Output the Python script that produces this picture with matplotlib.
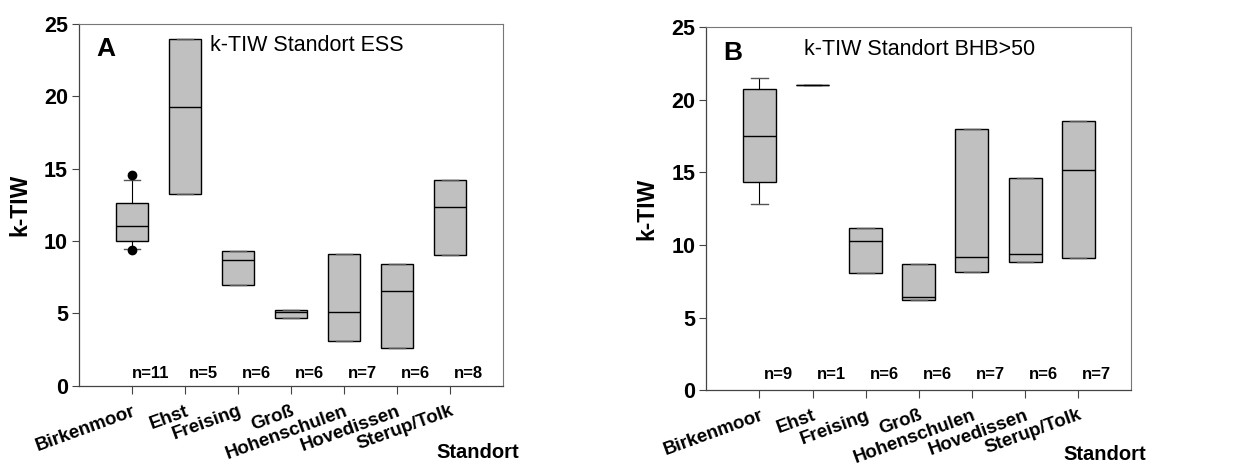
import matplotlib
matplotlib.use("Agg")
import matplotlib.pyplot as plt

plt.rcParams['font.family'] = ['Liberation Sans', 'DejaVu Sans']

standorte = ['Birkenmoor', 'Ehst', 'Freising', 'Groß', 'Hohenschulen',
             'Hovedissen', 'Sterup/Tolk']

# Panel A: k-TIW, Standort ESS
ess_q1 = [10.0, 13.26, 7.0, 4.72, 3.11, 2.65, 9.02]
ess_med = [11.03, 19.29, 8.72, 5.09, 5.13, 6.58, 12.38]
ess_q3 = [12.64, 23.94, 9.30, 5.27, 9.14, 8.40, 14.20]
ess_wlo = [9.48, 13.26, 7.0, 4.72, 3.11, 2.65, 9.02]
ess_whi = [14.20, 23.94, 9.30, 5.27, 9.14, 8.40, 14.20]
ess_fliers = [[14.55, 9.37], [], [], [], [], [], []]
ess_n = [11, 5, 6, 6, 7, 6, 8]

# Panel B: k-TIW, Standort BHB>50
bhb_q1 = [14.33, 21.0, 8.04, 6.18, 8.11, 8.80, 9.10]
bhb_med = [17.50, 21.0, 10.25, 6.43, 9.14, 9.35, 15.14]
bhb_q3 = [20.77, 21.0, 11.14, 8.66, 18.01, 14.63, 18.56]
bhb_wlo = [12.82, 21.0, 8.04, 6.18, 8.11, 8.80, 9.10]
bhb_whi = [21.48, 21.0, 11.14, 8.66, 18.01, 14.63, 18.56]
bhb_fliers = [[], [], [], [], [], [], []]
bhb_n = [9, 1, 6, 6, 7, 6, 7]


def make_stats(q1, med, q3, wlo, whi, fliers):
    return [dict(q1=a, med=b, q3=c, whislo=d, whishi=e, fliers=f)
            for a, b, c, d, e, f in zip(q1, med, q3, wlo, whi, fliers)]


def panel(ax, stats, n, letter, title, title_x, ny):
    pos = list(range(1, len(stats) + 1))
    ax.bxp(stats, positions=pos, widths=0.62, patch_artist=True,
           showfliers=True,
           boxprops=dict(facecolor='#c0c0c0', edgecolor='black', linewidth=1.0),
           medianprops=dict(color='black', linewidth=1.0),
           whiskerprops=dict(color='black', linewidth=0.8),
           capprops=dict(color='#555555', linewidth=1.0),
           capwidths=0.31,
           flierprops=dict(marker='o', markerfacecolor='black',
                           markeredgecolor='black', markersize=6))
    ax.set_xlim(0, 8)
    ax.set_ylim(0, 25)
    ax.set_yticks([0, 5, 10, 15, 20, 25])
    ax.set_xticks(pos)
    ax.set_xticklabels(standorte, rotation=20, ha='right', va='top',
                       rotation_mode='anchor', fontsize=13.5, fontweight='bold')
    for lab in ax.get_yticklabels():
        lab.set_fontsize(15.5)
        lab.set_fontweight('bold')
    ax.tick_params(axis='y', length=5, width=0.8, color='#444444', pad=3)
    ax.tick_params(axis='x', length=6, width=0.8, color='#444444', pad=6)
    for side in ['left', 'bottom']:
        ax.spines[side].set_color('#444444')
        ax.spines[side].set_linewidth(0.9)
    for side in ['top', 'right']:
        ax.spines[side].set_color('#777777')
        ax.spines[side].set_linewidth(0.8)
    ax.set_ylabel('k-TIW', fontsize=16.5, fontweight='bold', labelpad=9)
    for p, k in zip(pos, n):
        ax.text(p + 0.35, ny, 'n=%d' % k, ha='center', va='center',
                fontsize=12, fontweight='bold')
    ax.text(0.04, 0.93, letter, transform=ax.transAxes, fontsize=19,
            fontweight='bold', va='center', ha='left')
    ax.text(title_x, 0.94, title, transform=ax.transAxes, fontsize=15.5,
            va='center', ha='left')


fig = plt.figure(figsize=(12.48, 4.70), dpi=100)
ax1 = fig.add_axes([0.0633, 0.179, 0.3397, 0.770])
ax2 = fig.add_axes([0.566, 0.170, 0.3405, 0.772])

panel(ax1, make_stats(ess_q1, ess_med, ess_q3, ess_wlo, ess_whi, ess_fliers),
      ess_n, 'A', 'k-TIW Standort ESS', 0.31, 0.85)
panel(ax2, make_stats(bhb_q1, bhb_med, bhb_q3, bhb_wlo, bhb_whi, bhb_fliers),
      bhb_n, 'B', 'k-TIW Standort BHB>50', 0.23, 1.1)

fig.text(478 / 1248, 1 - 453 / 470, 'Standort', ha='center', va='center',
         fontsize=14.5, fontweight='bold')
fig.text(1105 / 1248, 1 - 455 / 470, 'Standort', ha='center', va='center',
         fontsize=14.5, fontweight='bold')

fig.savefig('out.png', dpi=100)
